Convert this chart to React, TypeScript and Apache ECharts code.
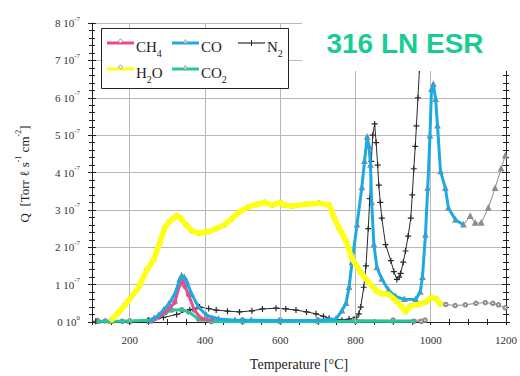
import React, { useEffect, useRef } from 'react';
import * as echarts from 'echarts';

// ---------- data (Q in units of 1e-7 Torr·l·s^-1·cm^-2) ----------
const xTickLabels = [200, 400, 600, 800, 1000, 1200];
const xGridValues = [200, 400, 600, 800, 1000];

const h2oT = [115,135,153,170,187,205,224,246,264,280,293,305,317,325,335,350,365,383,410,430,452,470,489,515,540,558,579,600,610,632,668,703,730,743,756,775,790,814,835,854,870,888,910,922,933,945,968,986,1002,1015,1026,1040,1065,1092,1120,1145,1165,1180,1198];
const h2oQ = [0.03,0.03,0.06,0.25,0.45,0.68,0.93,1.4,1.67,2.12,2.52,2.68,2.78,2.85,2.78,2.6,2.44,2.38,2.42,2.5,2.6,2.75,2.93,3.08,3.15,3.2,3.13,3.2,3.13,3.1,3.15,3.18,3.13,2.8,2.52,2.17,1.72,1.32,1.06,0.85,0.76,0.74,0.55,0.42,0.28,0.42,0.47,0.53,0.66,0.61,0.48,0.47,0.44,0.46,0.5,0.52,0.5,0.46,0.38];

const coT = [115,150,200,253,265,277,290,304,320,333,338,345,351,365,383,404,436,480,523,600,700,748,764,775,783,791,804,817,824,831,836,840,843,849,857,870,888,907,930,960,972,978,986,992,998,1002,1007,1013,1018,1026,1039,1047,1066,1087,1105,1118,1134,1153,1171,1187,1198];
const coQ = [0.03,0.03,0.03,0.03,0.1,0.18,0.32,0.48,0.74,1.14,1.24,1.2,1.1,0.74,0.4,0.18,0.08,0.05,0.05,0.04,0.05,0.08,0.3,0.5,0.93,1.6,2.6,3.6,4.3,4.95,4.7,4.2,3.2,2.07,1.46,1.15,0.85,0.68,0.61,0.6,0.8,1.2,2.33,3.58,4.98,6.23,6.36,5.96,5.25,4.03,3.58,3.05,2.73,2.6,2.83,2.65,2.65,3.05,3.58,4.1,4.45];

const ch4T = [115,200,260,285,305,320,333,340,347,356,372,391,420,500,600,700,800,900,985];
const ch4Q = [0.03,0.03,0.05,0.18,0.35,0.53,1.0,1.1,0.95,0.74,0.32,0.08,0.05,0.06,0.06,0.06,0.06,0.05,0.05];

const co2T = [115,180,250,277,295,312,338,357,383,417,500,600,700,800,900,955,975];
const co2Q = [0.02,0.02,0.05,0.13,0.25,0.32,0.33,0.27,0.08,0.01,0.01,0.01,0.01,0.02,0.02,0.02,0.02];

const n2T = [110,200,250,290,325,360,386,410,430,460,492,525,553,589,615,642,670,695,715,730,764,783,801,809,814,822,828,834,838,842,846,851,855,859,862,866,870,880,894,902,910,916,920,927,933,940,947,951,955,959,962,966,970,973,976];
const n2Q = [0.02,0.02,0.05,0.12,0.2,0.33,0.4,0.36,0.32,0.29,0.27,0.3,0.35,0.37,0.35,0.32,0.27,0.22,0.15,0.1,0.05,0.08,0.13,0.22,0.4,0.93,1.5,2.5,3.3,4.3,5.0,5.3,4.8,4.2,3.66,3.2,2.78,2.07,1.64,1.35,1.14,1.2,1.3,1.6,1.9,2.3,2.78,3.4,4.1,4.7,5.25,6.0,6.75,7.5,8.3];

// temperature ranges that are highlighted with coloured strokes
const h2oHighlight = [150, 1026];
const coHighlight = [253, 1087];
const ch4Highlight = [260, 420];
const co2Highlight = [115, 955];

const SERIF = '"Liberation Serif", "DejaVu Serif", serif';
const SANS = '"Liberation Sans", Arial, sans-serif';
const COL = {
  ch4: '#ec4a8c',
  co: '#1caae4',
  h2o: '#ffff10',
  co2: '#22c99b',
  n2: '#2a2a2a',
  raw: '#8c8c8c',
  grid: '#b8b8b8',
  axis: '#222',
  title: '#19cc94',
};

const pairs = (t: number[], q: number[]) => t.map((v, i) => [v, q[i]]);
const within = (t: number[], q: number[], r: number[]) =>
  pairs(t, q).filter((p) => p[0] >= r[0] && p[0] <= r[1]);

const PLUS = 'path://M4,0H6V4H10V6H6V10H4V6H0V4H4Z';

function rawSeries(name: string, t: number[], q: number[], symbol: string, extra: any = {}) {
  return {
    name,
    type: 'line',
    data: pairs(t, q),
    symbol,
    symbolSize: 3.5,
    showSymbol: true,
    itemStyle: { color: COL.raw },
    lineStyle: { color: COL.raw, width: 1 },
    z: 2,
    silent: true,
    ...extra,
  };
}

function hiSeries(name: string, data: any[], color: string, width: number, z: number) {
  return {
    name,
    type: 'line',
    data,
    symbol: 'none',
    lineStyle: { color, width, cap: 'round', join: 'round' },
    z,
    silent: true,
  };
}

export default function App() {
  const ref = useRef<HTMLDivElement>(null);

  useEffect(() => {
    document.body.style.margin = '0';
    const chart = echarts.init(ref.current!, null, { renderer: 'svg' });

    const xBase = {
      type: 'value',
      min: 100,
      max: 1200,
      interval: 50,
      splitLine: { show: false },
      axisLabel: { show: false },
      axisLine: { show: false },
      axisTick: { show: true, length: 3, lineStyle: { color: COL.axis } },
    };
    const yBase = {
      type: 'value',
      min: 0,
      max: 8,
      interval: 1,
      splitLine: { show: false },
      axisLabel: { show: false },
      axisLine: { show: false },
      axisTick: { show: true, length: 4, lineStyle: { color: COL.axis } },
      minorTick: { show: true, splitNumber: 5, length: 3, lineStyle: { color: COL.axis } },
    };

    const legendItems = [
      { label: '{n|CH}{s|4}', color: COL.ch4, x: 107, y: 43, marker: 'circle' },
      { label: '{n|CO}', color: COL.co, x: 172, y: 43, marker: 'triangle' },
      { label: '{n|N}{s|2}', color: '#555', x: 238, y: 43, marker: 'plus', thin: true },
      { label: '{n|H}{s|2}{n|O}', color: COL.h2o, x: 107, y: 69, marker: 'circle' },
      { label: '{n|CO}{s|2}', color: COL.co2, x: 172, y: 69, marker: 'triangle' },
    ];
    const richLegend = {
      n: { fontSize: 15, fontFamily: SERIF, fill: '#222', color: '#222', lineHeight: 22 },
      s: { fontSize: 10, fontFamily: SERIF, fill: '#222', color: '#222', lineHeight: 22, verticalAlign: 'bottom' },
    };
    const legendGraphics: any[] = [
      {
        type: 'rect',
        shape: { x: 101.5, y: 28.5, width: 187, height: 60 },
        style: { fill: '#fff', stroke: '#222', lineWidth: 1 },
        z: 100,
      },
    ];
    legendItems.forEach((it) => {
      legendGraphics.push({
        type: 'line',
        shape: { x1: it.x, y1: it.y, x2: it.x + 27, y2: it.y },
        style: { stroke: it.color, lineWidth: it.thin ? 1.5 : 3 },
        z: 101,
      });
      const cx = it.x + 13.5;
      if (it.marker === 'circle') {
        legendGraphics.push({ type: 'circle', shape: { cx, cy: it.y - 2, r: 1.8 }, style: { fill: '#fff', stroke: '#999', lineWidth: 1 }, z: 102 });
      } else if (it.marker === 'triangle') {
        legendGraphics.push({ type: 'polygon', shape: { points: [[cx, it.y - 3.5], [cx - 2, it.y], [cx + 2, it.y]] }, style: { fill: '#fff', stroke: '#999', lineWidth: 1 }, z: 102 });
      } else {
        legendGraphics.push({ type: 'line', shape: { x1: cx, y1: it.y - 3, x2: cx, y2: it.y + 3 }, style: { stroke: '#222', lineWidth: 1 }, z: 102 });
      }
      legendGraphics.push({
        type: 'text',
        x: it.x + 29,
        y: it.y + 4,
        style: { text: it.label, rich: richLegend, verticalAlign: 'middle', align: 'left' },
        z: 102,
      });
    });

    const option: any = {
      animation: false,
      backgroundColor: '#fff',
      grid: { left: 92, right: 12, top: 23, bottom: 51 },
      xAxis: [
        {
          ...xBase,
          position: 'bottom',
          axisLine: { show: true, lineStyle: { color: COL.axis, width: 1 } },
          axisTick: { show: true, inside: true, length: 3, lineStyle: { color: COL.axis } },
          axisLabel: {
            show: true,
            margin: 12,
            fontSize: 11,
            fontFamily: SERIF,
            color: '#333',
            formatter: (v: number) => (xTickLabels.includes(v) ? String(v) : ''),
          },
          name: 'Temperature [°C]',
          nameLocation: 'middle',
          nameGap: 35,
          nameTextStyle: { fontSize: 14, fontFamily: SERIF, color: '#222' },
        },
        { ...xBase, position: 'bottom', axisTick: { ...xBase.axisTick, inside: false } },
        { ...xBase, position: 'top', axisLine: { show: true, lineStyle: { color: COL.axis } }, axisTick: { ...xBase.axisTick, inside: true } },
        { ...xBase, position: 'top', axisTick: { ...xBase.axisTick, inside: false } },
      ],
      yAxis: [
        {
          ...yBase,
          position: 'left',
          axisLine: { show: true, lineStyle: { color: COL.axis } },
          axisTick: { ...yBase.axisTick, inside: false },
          splitLine: { show: true, lineStyle: { color: COL.grid, width: 1 } },
          axisLabel: {
            show: true,
            margin: 12,
            formatter: (v: number) => `{b|${v} 10}{s|${v === 0 ? '0' : '-7'}}`,
            rich: {
              b: { fontSize: 11, fontFamily: SERIF, color: '#333', lineHeight: 16 },
              s: { fontSize: 7, fontFamily: SERIF, color: '#333', lineHeight: 16, verticalAlign: 'top' },
            },
          },
        },
        { ...yBase, position: 'left', axisTick: { ...yBase.axisTick, inside: true } },
        { ...yBase, position: 'right', axisLine: { show: true, lineStyle: { color: COL.axis } }, axisTick: { ...yBase.axisTick, inside: true } },
        { ...yBase, position: 'right', axisTick: { ...yBase.axisTick, inside: false } },
      ],
      series: [
        rawSeries('CO2 raw', co2T, co2Q, 'emptyCircle', {
          z: 1,
          markLine: {
            silent: true,
            symbol: 'none',
            label: { show: false },
            lineStyle: { color: COL.grid, width: 1, type: 'solid' },
            data: xGridValues.map((v) => ({ xAxis: v })),
          },
        }),
        rawSeries('CH4 raw', ch4T, ch4Q, 'emptyCircle'),
        rawSeries('CO raw', coT, coQ, 'emptyTriangle'),
        rawSeries('H2O raw', h2oT, h2oQ, 'emptyCircle'),
        {
          name: 'N2',
          type: 'line',
          data: pairs(n2T, n2Q),
          symbol: PLUS,
          symbolSize: 6,
          showSymbol: true,
          itemStyle: { color: COL.n2 },
          lineStyle: { color: COL.n2, width: 1 },
          z: 3,
          silent: true,
        },
        hiSeries('CO2', within(co2T, co2Q, co2Highlight), COL.co2, 3, 4),
        hiSeries('CH4', within(ch4T, ch4Q, ch4Highlight), COL.ch4, 3, 5),
        hiSeries('CO', within(coT, coQ, coHighlight), COL.co, 3, 6),
        hiSeries('H2O', within(h2oT, h2oQ, h2oHighlight), COL.h2o, 5.5, 7),
      ],
      graphic: [
        {
          type: 'text',
          x: 24,
          y: 174,
          rotation: Math.PI / 2,
          style: {
            text: '{a|Q  [Torr ℓ s}{s|-1}{a| cm}{s|-2}{a|]}',
            rich: {
              a: { fontSize: 13, fontFamily: SERIF, fill: '#222', color: '#222', lineHeight: 20 },
              s: { fontSize: 8, fontFamily: SERIF, fill: '#222', color: '#222', lineHeight: 20, verticalAlign: 'top' },
            },
            align: 'center',
            verticalAlign: 'middle',
          },
          z: 100,
        },
        {
          // white panel behind the title (covers the top-right corner of the frame)
          type: 'rect',
          shape: { x: 302, y: 0, width: 218, height: 71 },
          style: { fill: '#fff' },
          z: 95,
        },
        {
          type: 'text',
          x: 405,
          y: 43,
          style: {
            text: '316 LN ESR',
            font: `bold 28px ${SANS}`,
            fill: COL.title,
            align: 'center',
            verticalAlign: 'middle',
          },
          z: 100,
        },
        ...legendGraphics,
      ],
    };

    chart.setOption(option);
    return () => chart.dispose();
  }, []);

  return <div ref={ref} style={{ width: 520, height: 376 }} />;
}
